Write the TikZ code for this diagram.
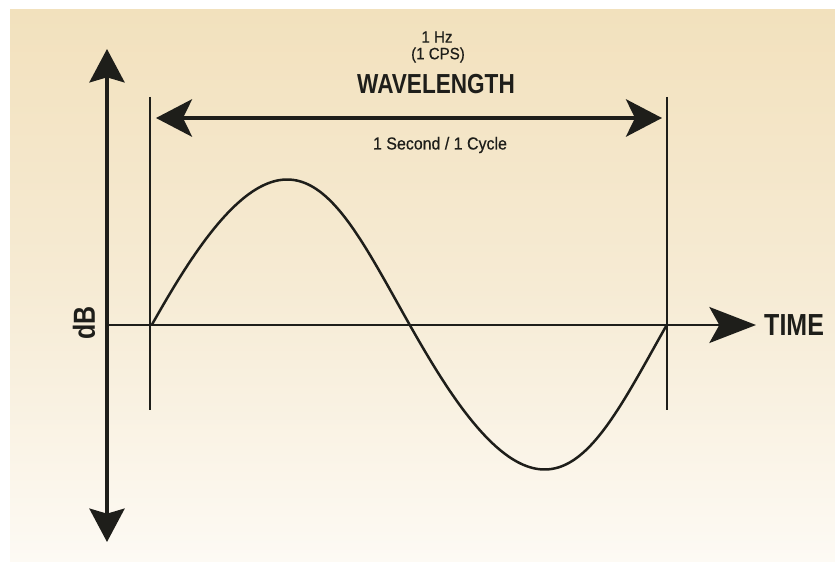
\documentclass[tikz,border=0pt]{standalone}
\usepackage{fontspec}
\usetikzlibrary{arrows.meta}
\newfontfamily\bigfont[FakeStretch=0.82]{Liberation Sans}
\newfontfamily\smallfont[FakeStretch=0.92,FakeBold=0.6]{Liberation Sans}
\definecolor{ink}{RGB}{30,30,26}
\definecolor{bgtop}{RGB}{242,225,189}
\definecolor{bgmid}{RGB}{246,235,212}
\definecolor{bgbot}{RGB}{253,250,244}
\tikzset{
  axisline/.style={draw=ink, line width=0.12cm},
  thinaxis/.style={draw=ink, line width=0.06cm},
  boundline/.style={draw=ink, line width=0.08cm},
  waveline/.style={draw=ink, line width=0.075cm},
  bigtips/.style={{Stealth[length=1.0cm, width=1.05cm, inset=0.15cm]}-{Stealth[length=1.0cm, width=1.05cm, inset=0.15cm]}},
  timetip/.style={-{Stealth[length=1.4cm, width=1.08cm, inset=0.3cm]}},
  wavetips/.style={{Stealth[length=1.08cm, width=1.12cm, inset=0.27cm]}-{Stealth[length=1.08cm, width=1.12cm, inset=0.27cm]}},
  bigtext/.style={text=ink, inner sep=0pt, font=\bigfont\bfseries\fontsize{26}{28}\selectfont},
  midtext/.style={text=ink, inner sep=0pt, font=\bigfont\bfseries\fontsize{23.5}{26}\selectfont},
  smalltext/.style={text=ink, inner sep=0pt, font=\smallfont\fontsize{14}{16}\selectfont},
  smalltextb/.style={text=ink, inner sep=0pt, font=\smallfont\fontsize{14.8}{17}\selectfont},
}
\begin{document}
\begin{tikzpicture}[x=0.03cm, y=-0.03cm]
\useasboundingbox (0,0) rectangle (835,562);
\shade[top color=bgtop, bottom color=bgbot, middle color=bgmid] (10,10) rectangle (835,562);
% coordinates
\coordinate (ytop) at (107,49);
\coordinate (ybot) at (107,542);
\coordinate (origin) at (107,325);
\coordinate (xend) at (756,325);
\coordinate (lt) at (150,97);
\coordinate (lb) at (150,410);
\coordinate (rt) at (667,97);
\coordinate (rb) at (667,410);
\coordinate (wl) at (156,118);
\coordinate (wr) at (662,118);
% axes
\draw[axisline, bigtips] (ytop) -- (ybot);
\draw[thinaxis, timetip] (origin) -- (xend);
% boundary lines
\draw[boundline] (lt) -- (lb);
\draw[boundline] (rt) -- (rb);
% wavelength arrow
\draw[axisline, wavetips] (wl) -- (wr);
% sine wave
\draw[waveline, line join=round] plot[domain=0:360, samples=180] ({152+1.430556*\x+3.2*(1-cos(2*\x))},{324.5-145*sin(\x)});
% labels
\node[bigtext, anchor=west] (time) at (764,325) {TIME};
\node[bigtext, rotate=90] (db) at (84,323) {dB};
\node[midtext] (wavelength) at (436,84) {WAVELENGTH};
\node[smalltext] (hz) at (437,37) {1 Hz};
\node[smalltext] (cps) at (438,55) {(1 CPS)};
\node[smalltextb] (sec) at (440,145) {1 Second / 1 Cycle};
\end{tikzpicture}
\end{document}
